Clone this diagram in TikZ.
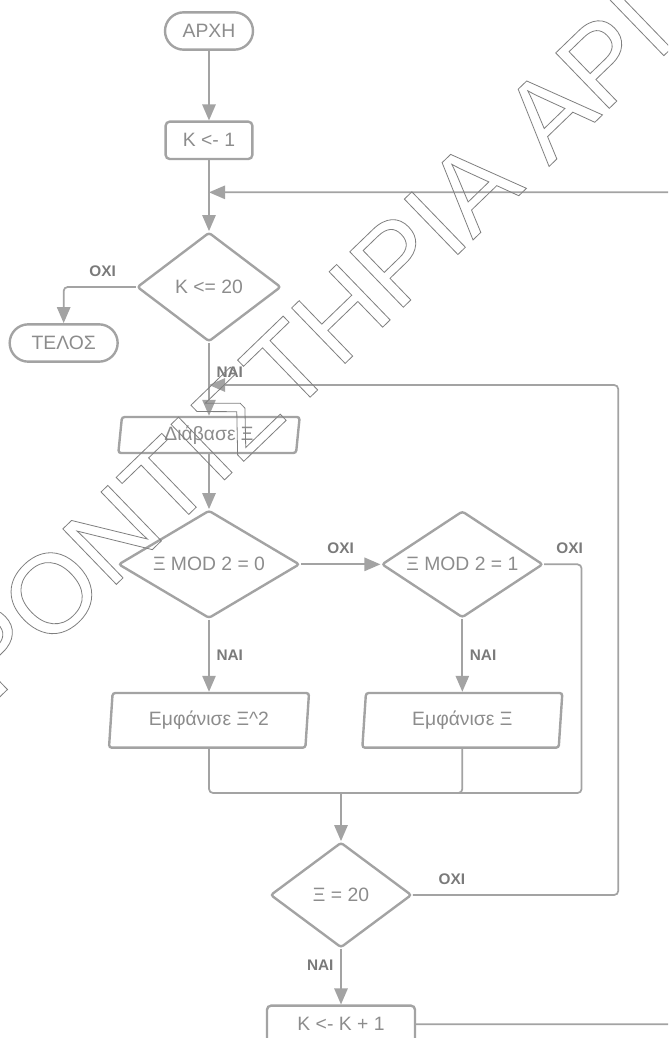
\documentclass[tikz,border=0pt]{standalone}
\usepackage{fontspec}
\setmainfont{Liberation Sans}
\usetikzlibrary{positioning,shapes.geometric,arrows.meta}
\definecolor{linegray}{HTML}{A3A3A3}
\definecolor{textgray}{HTML}{8C8C8C}
\definecolor{labelgray}{HTML}{7A7A7A}
\definecolor{markgray}{HTML}{7F7F7F}

\begin{document}
\begin{tikzpicture}[x=0.75pt,y=-0.75pt,on grid,
    box/.style={draw=linegray,line width=1.8pt,text=textgray,inner sep=0pt,
                font=\fontsize{14.5}{17}\selectfont},
    terminal/.style={box,rounded corners=14pt,minimum width=66pt,minimum height=28pt},
    process/.style={box,rounded corners=3pt,minimum width=65pt,minimum height=28pt},
    decision/.style={box,diamond,aspect=1.6,rounded corners=2pt},
    io/.style={box,trapezium,trapezium left angle=79,trapezium right angle=101,
               trapezium stretches body,rounded corners=2pt},
    flow/.style={linegray,line width=1.3pt,rounded corners=3pt},
    arr/.style={flow,-{Triangle[length=12pt,width=10pt]}},
    tag/.style={text=labelgray,inner sep=0pt,font=\bfseries\fontsize{11.5}{13}\selectfont}]
    \useasboundingbox (0,0) rectangle (668,1038);
    \clip (0,0) rectangle (668,1038);

    \node[terminal]                                  (t_0) at (209,31)                 {ΑΡΧΗ};
    \node[process]                                   (p_0) [below=82pt of t_0]         {K <- 1};
    \node[decision,minimum width=108pt,minimum height=82pt]  (d_0) [below=110pt of p_0] {K <= 20};
    \node[terminal,minimum width=81pt]               (t_1) [below left=42pt and 109pt of d_0] {ΤΕΛΟΣ};
    \node[io,minimum width=136pt,minimum height=27pt]        (io_0) [below=111pt of d_0] {Διάβασε Ξ};
    \node[decision,minimum width=136pt,minimum height=81pt]  (d_1) [below=97pt of io_0] {Ξ MOD 2 = 0};
    \node[decision,minimum width=121pt,minimum height=80pt]  (d_2) [right=190pt of d_1] {Ξ MOD 2 = 1};
    \node[io,minimum width=150pt,minimum height=41pt]        (io_1) [below=117pt of d_1] {Εμφάνισε Ξ\textasciicircum 2};
    \node[io,minimum width=150pt,minimum height=41pt]        (io_2) [below=117pt of d_2] {Εμφάνισε Ξ};
    \node[decision,minimum width=106pt,minimum height=79pt]  (d_3) [below right=131pt and 99pt of io_1] {Ξ = 20};
    \node[process,minimum width=111pt]               (p_1) [below=97pt of d_3]         {K <- K + 1};

    \coordinate[below=39pt of p_0]        (j_0);
    \coordinate[below=73.5pt of d_0]      (j_1);
    \coordinate[above=76.5pt of d_3]      (m_0);
    \coordinate[right=28pt of d_2.east]   (c_0);
    \coordinate[right=154pt of d_3.east]  (c_1);
    \coordinate[right=212pt of p_1.east]  (c_2);

    \path[arr] (t_0)  edge (p_0)
               (p_0)  edge (d_0)
               (d_0)  edge node[tag,right=5pt,pos=0.4] {ΝΑΙ} (io_0)
               (io_0) edge (d_1)
               (d_1)  edge node[tag,above=7pt] {ΟΧΙ} (d_2)
               (d_1)  edge node[tag,right=5pt] {ΝΑΙ} (io_1)
               (d_2)  edge node[tag,right=5pt] {ΝΑΙ} (io_2)
               (m_0)  edge (d_3)
               (d_3)  edge node[tag,left=5pt,pos=0.3] {ΝΑΙ} (p_1);
    \draw[arr]  (d_0) -| node[tag,above=7pt,pos=0.23] {ΟΧΙ} (t_1);
    \draw[flow] (d_2) -- node[tag,above=7pt,pos=0.68] {ΟΧΙ} (c_0) |- (m_0);
    \draw[flow] (io_1) |- (m_0);
    \draw[flow] (io_2) |- (m_0);
    \draw[arr]  (d_3) -- node[tag,above=7pt,pos=0.19] {ΟΧΙ} (c_1) |- (j_1);
    \draw[arr]  (p_1) -- (c_2) |- (j_0);

    % outlined mark across the page
    \node[rotate=44,anchor=base east,inner sep=0pt,text=markgray,
          font=\fontsize{84}{84}\selectfont] (mark) at (679,41)
          {\special{pdf:literal direct 1 Tr 0.6 w}ΡΟΝΤΙΣΤΗΡΙΑ ΑΡΙ\special{pdf:literal direct 0 Tr}};
\end{tikzpicture}
\end{document}
